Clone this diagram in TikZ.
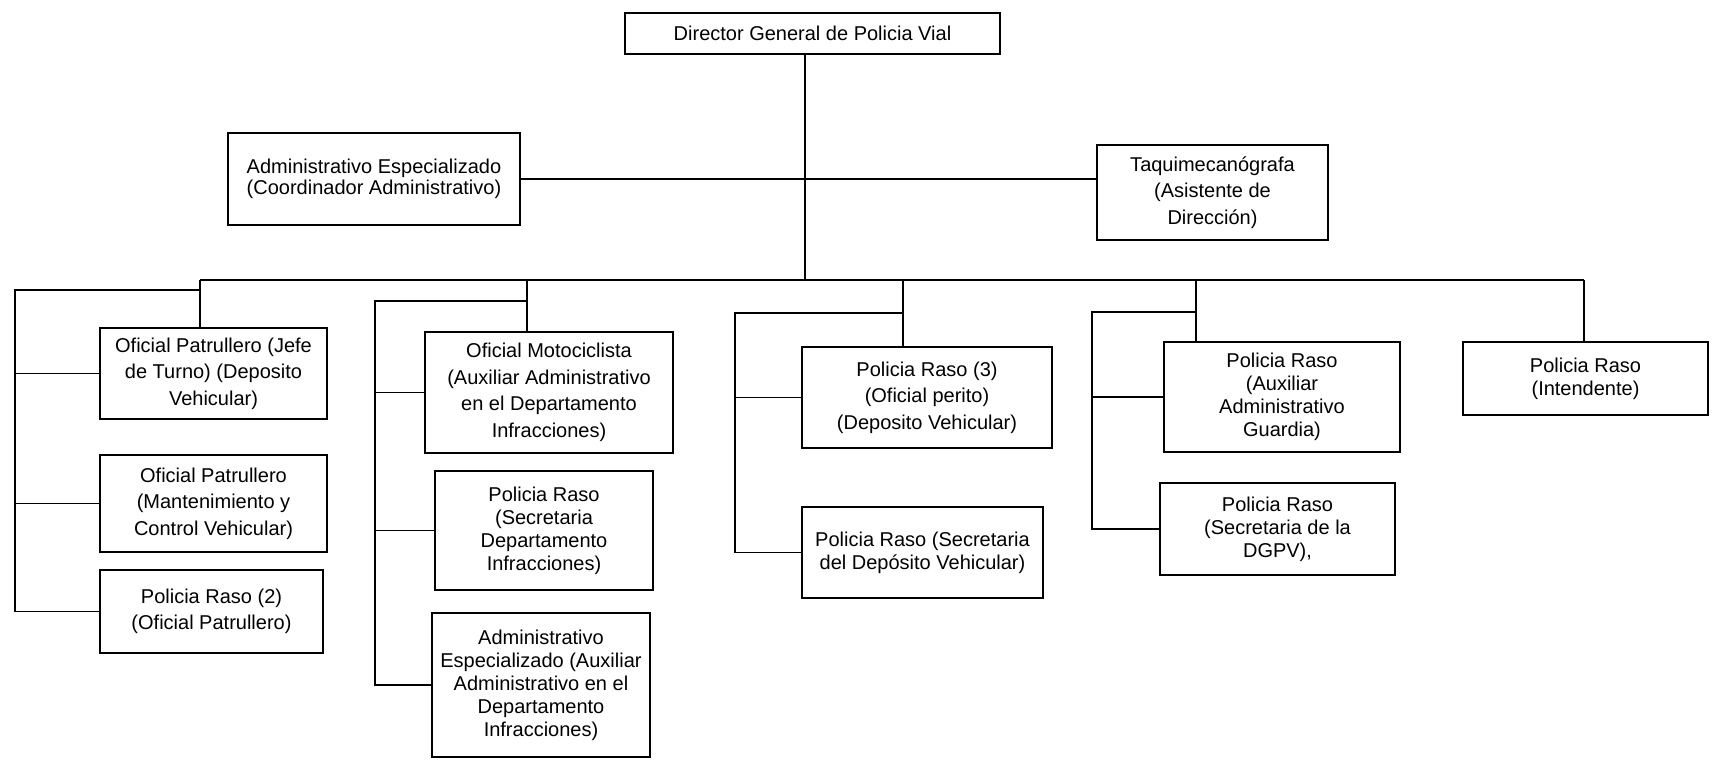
\documentclass[tikz,border=0pt]{standalone}
\usepackage{fontspec}
\setmainfont{Liberation Sans}
\newcommand{\boxfont}{\fontsize{20}{23}\selectfont}
\newcommand{\boxfontwide}{\fontsize{20}{26.5}\selectfont}
\tikzset{
  box/.style={draw, line width=1.2pt, inner sep=0pt, align=center, font=\boxfont},
  link/.style={line width=1.5pt},
}
\begin{document}
\begin{tikzpicture}[x=1pt,y=-1pt]
  \useasboundingbox (0,0) rectangle (1714,762);
  % top
  \node[box, minimum width=375, minimum height=41] (dir) at (812.5,33.5) {Director General de Policia Vial};
  \node[box, minimum width=292, minimum height=92, font=\fontsize{20}{21}\selectfont] (adm) at (374,179) {Administrativo Especializado\\(Coordinador Administrativo)};
  \node[box, minimum width=231, minimum height=95, font=\boxfontwide] (taq) at (1212.5,192.5) {Taquimecanógrafa\\(Asistente de\\Dirección)};
  % group 1
  \node[box, minimum width=227, minimum height=91, font=\boxfontwide] (g1a) at (213.5,373.5) {Oficial Patrullero (Jefe\\de Turno) (Deposito\\Vehicular)};
  \node[box, minimum width=227, minimum height=97, font=\boxfontwide] (g1b) at (213.5,503.5) {Oficial Patrullero\\(Mantenimiento y\\Control Vehicular)};
  \node[box, minimum width=223, minimum height=83, font=\boxfontwide] (g1c) at (211.5,611.5) {Policia Raso (2)\\(Oficial Patrullero)};
  % group 2
  \node[box, minimum width=248, minimum height=121, font=\boxfontwide] (g2a) at (549,392.5) {Oficial Motociclista\\(Auxiliar Administrativo\\en el Departamento\\Infracciones)};
  \node[box, minimum width=218, minimum height=119] (g2b) at (544,530.5) {Policia Raso\\(Secretaria\\Departamento\\Infracciones)};
  \node[box, minimum width=218, minimum height=144] (g2c) at (541,685) {Administrativo\\Especializado (Auxiliar\\Administrativo en el\\Departamento\\Infracciones)};
  % group 3
  \node[box, minimum width=250, minimum height=101, font=\boxfontwide] (g3a) at (927,397.5) {Policia Raso (3)\\(Oficial perito)\\(Deposito Vehicular)};
  \node[box, minimum width=241, minimum height=91] (g3b) at (922.5,552.5) {Policia Raso (Secretaria\\del Depósito Vehicular)};
  % group 4
  \node[box, minimum width=236, minimum height=110] (g4a) at (1282,397) {Policia Raso\\(Auxiliar\\Administrativo\\Guardia)};
  \node[box, minimum width=235, minimum height=92] (g4b) at (1277.5,529) {Policia Raso\\(Secretaria de la\\DGPV),};
  % group 5
  \node[box, minimum width=245, minimum height=73] (g5) at (1585.5,378.5) {Policia Raso\\(Intendente)};

  % junctions
  \coordinate (top) at (805,280);
  \coordinate (busl) at (200,280);
  \coordinate (busr) at (1584,280);
  \coordinate (j1) at (200,290);
  \coordinate (r1) at (15,290);
  \coordinate (s2) at (527,280);
  \coordinate (j2) at (527,301);
  \coordinate (r2) at (375,301);
  \coordinate (s3) at (903,280);
  \coordinate (j3) at (903,313);
  \coordinate (r3) at (735,313);
  \coordinate (s4) at (1196,280);
  \coordinate (j4) at (1196,312);
  \coordinate (r4) at (1092,312);

  \draw[link] (dir.south -| top) -- (top);
  \draw[link] (adm.east) -- (adm.east -| taq.west);
  \draw[link] (busl) -- (busr);
  % group 1
  \draw[link] (busl) -- (busl |- g1a.north);
  \draw[link] (j1) -- (r1) -- (r1 |- g1c.west) -- (g1c.west);
  \draw[link] (r1 |- g1a.west) -- (g1a.west);
  \draw[link] (r1 |- g1b.west) -- (g1b.west);
  % group 2
  \draw[link] (s2) -- (s2 |- g2a.north);
  \draw[link] (j2) -- (r2) -- (r2 |- g2c.west) -- (g2c.west);
  \draw[link] (r2 |- g2a.west) -- (g2a.west);
  \draw[link] (r2 |- g2b.west) -- (g2b.west);
  % group 3
  \draw[link] (s3) -- (s3 |- g3a.north);
  \draw[link] (j3) -- (r3) -- (r3 |- g3b.west) -- (g3b.west);
  \draw[link] (r3 |- g3a.west) -- (g3a.west);
  % group 4
  \draw[link] (s4) -- (s4 |- g4a.north);
  \draw[link] (j4) -- (r4) -- (r4 |- g4b.west) -- (g4b.west);
  \draw[link] (r4 |- g4a.west) -- (g4a.west);
  % group 5
  \draw[link] (busr) -- (busr |- g5.north);
\end{tikzpicture}
\end{document}
